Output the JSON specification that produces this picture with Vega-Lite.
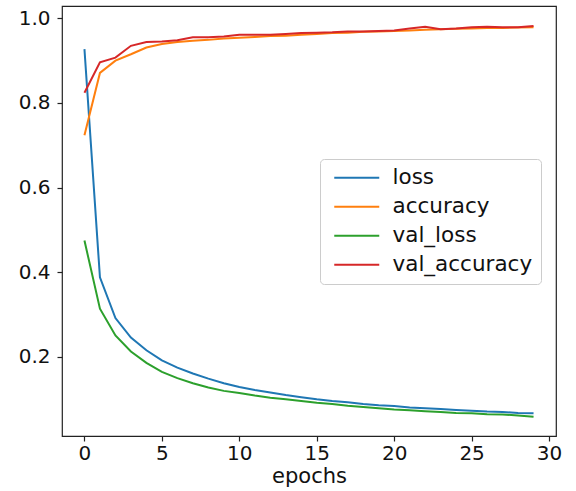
{
  "$schema": "https://vega.github.io/schema/vega-lite/v6.json",
  "width": 494,
  "height": 430,
  "autosize": "none",
  "padding": {"left": 62, "top": 6, "right": 20, "bottom": 55},
  "background": "white",
  "config": {
    "font": "DejaVu Sans",
    "view": {"stroke": "#222", "strokeWidth": 1.2},
    "axis": {
      "grid": false,
      "domain": false,
      "tickColor": "#222",
      "tickSize": 5,
      "tickWidth": 1.2,
      "labelFont": "DejaVu Sans",
      "labelFontSize": 20,
      "labelColor": "#111",
      "titleFont": "DejaVu Sans",
      "titleFontSize": 21,
      "titleFontWeight": "normal",
      "titleColor": "#111"
    },
    "legend": {
      "labelFont": "DejaVu Sans",
      "labelFontSize": 21.5,
      "labelColor": "#111"
    }
  },
  "data": {
    "values": [
      {"epoch": 0, "loss": 0.927, "accuracy": 0.724, "val_loss": 0.475, "val_accuracy": 0.824},
      {"epoch": 1, "loss": 0.388, "accuracy": 0.871, "val_loss": 0.314, "val_accuracy": 0.896},
      {"epoch": 2, "loss": 0.292, "accuracy": 0.900, "val_loss": 0.251, "val_accuracy": 0.907},
      {"epoch": 3, "loss": 0.246, "accuracy": 0.915, "val_loss": 0.213, "val_accuracy": 0.935},
      {"epoch": 4, "loss": 0.216, "accuracy": 0.931, "val_loss": 0.186, "val_accuracy": 0.944},
      {"epoch": 5, "loss": 0.192, "accuracy": 0.939, "val_loss": 0.165, "val_accuracy": 0.945},
      {"epoch": 6, "loss": 0.175, "accuracy": 0.944, "val_loss": 0.150, "val_accuracy": 0.948},
      {"epoch": 7, "loss": 0.161, "accuracy": 0.947, "val_loss": 0.138, "val_accuracy": 0.955},
      {"epoch": 8, "loss": 0.149, "accuracy": 0.949, "val_loss": 0.128, "val_accuracy": 0.955},
      {"epoch": 9, "loss": 0.138, "accuracy": 0.952, "val_loss": 0.120, "val_accuracy": 0.957},
      {"epoch": 10, "loss": 0.129, "accuracy": 0.954, "val_loss": 0.115, "val_accuracy": 0.961},
      {"epoch": 11, "loss": 0.122, "accuracy": 0.956, "val_loss": 0.109, "val_accuracy": 0.961},
      {"epoch": 12, "loss": 0.116, "accuracy": 0.958, "val_loss": 0.104, "val_accuracy": 0.961},
      {"epoch": 13, "loss": 0.110, "accuracy": 0.959, "val_loss": 0.100, "val_accuracy": 0.963},
      {"epoch": 14, "loss": 0.105, "accuracy": 0.961, "val_loss": 0.096, "val_accuracy": 0.965},
      {"epoch": 15, "loss": 0.100, "accuracy": 0.963, "val_loss": 0.092, "val_accuracy": 0.966},
      {"epoch": 16, "loss": 0.096, "accuracy": 0.965, "val_loss": 0.089, "val_accuracy": 0.967},
      {"epoch": 17, "loss": 0.093, "accuracy": 0.966, "val_loss": 0.085, "val_accuracy": 0.969},
      {"epoch": 18, "loss": 0.089, "accuracy": 0.968, "val_loss": 0.082, "val_accuracy": 0.969},
      {"epoch": 19, "loss": 0.086, "accuracy": 0.969, "val_loss": 0.079, "val_accuracy": 0.970},
      {"epoch": 20, "loss": 0.084, "accuracy": 0.970, "val_loss": 0.076, "val_accuracy": 0.971},
      {"epoch": 21, "loss": 0.081, "accuracy": 0.971, "val_loss": 0.074, "val_accuracy": 0.976},
      {"epoch": 22, "loss": 0.079, "accuracy": 0.973, "val_loss": 0.072, "val_accuracy": 0.980},
      {"epoch": 23, "loss": 0.077, "accuracy": 0.974, "val_loss": 0.070, "val_accuracy": 0.974},
      {"epoch": 24, "loss": 0.075, "accuracy": 0.975, "val_loss": 0.068, "val_accuracy": 0.976},
      {"epoch": 25, "loss": 0.073, "accuracy": 0.976, "val_loss": 0.067, "val_accuracy": 0.979},
      {"epoch": 26, "loss": 0.071, "accuracy": 0.977, "val_loss": 0.065, "val_accuracy": 0.980},
      {"epoch": 27, "loss": 0.070, "accuracy": 0.977, "val_loss": 0.064, "val_accuracy": 0.979},
      {"epoch": 28, "loss": 0.068, "accuracy": 0.978, "val_loss": 0.062, "val_accuracy": 0.979},
      {"epoch": 29, "loss": 0.067, "accuracy": 0.979, "val_loss": 0.059, "val_accuracy": 0.982}
    ]
  },
  "transform": [
    {"fold": ["loss", "accuracy", "val_loss", "val_accuracy"], "as": ["metric", "value"]}
  ],
  "mark": {"type": "line", "strokeWidth": 2, "clip": true},
  "encoding": {
    "x": {
      "field": "epoch",
      "type": "quantitative",
      "scale": {"domain": [-1.45, 30.45], "nice": false, "zero": false},
      "axis": {"values": [0, 5, 10, 15, 20, 25, 30], "title": "epochs", "labelPadding": 2, "titlePadding": 2, "labelFlush": false}
    },
    "y": {
      "field": "value",
      "type": "quantitative",
      "scale": {"domain": [0.0134, 1.029], "nice": false, "zero": false},
      "axis": {"values": [0.2, 0.4, 0.6, 0.8, 1.0], "format": ".1f", "title": null, "labelPadding": 7, "labelFlush": false}
    },
    "color": {
      "field": "metric",
      "type": "nominal",
      "sort": ["loss", "accuracy", "val_loss", "val_accuracy"],
      "scale": {
        "domain": ["loss", "accuracy", "val_loss", "val_accuracy"],
        "range": ["#1f77b4", "#ff7f0e", "#2ca02c", "#d62728"]
      },
      "legend": {
        "title": null,
        "orient": "none",
        "legendX": 258,
        "legendY": 153,
        "symbolType": "M-1,0H9",
        "symbolSize": 81,
        "symbolStrokeWidth": 2,
        "labelOffset": 43,
        "rowPadding": 6,
        "padding": 8,
        "strokeColor": "#cccccc",
        "fillColor": "rgba(255,255,255,0.8)",
        "cornerRadius": 4
      }
    }
  }
}
